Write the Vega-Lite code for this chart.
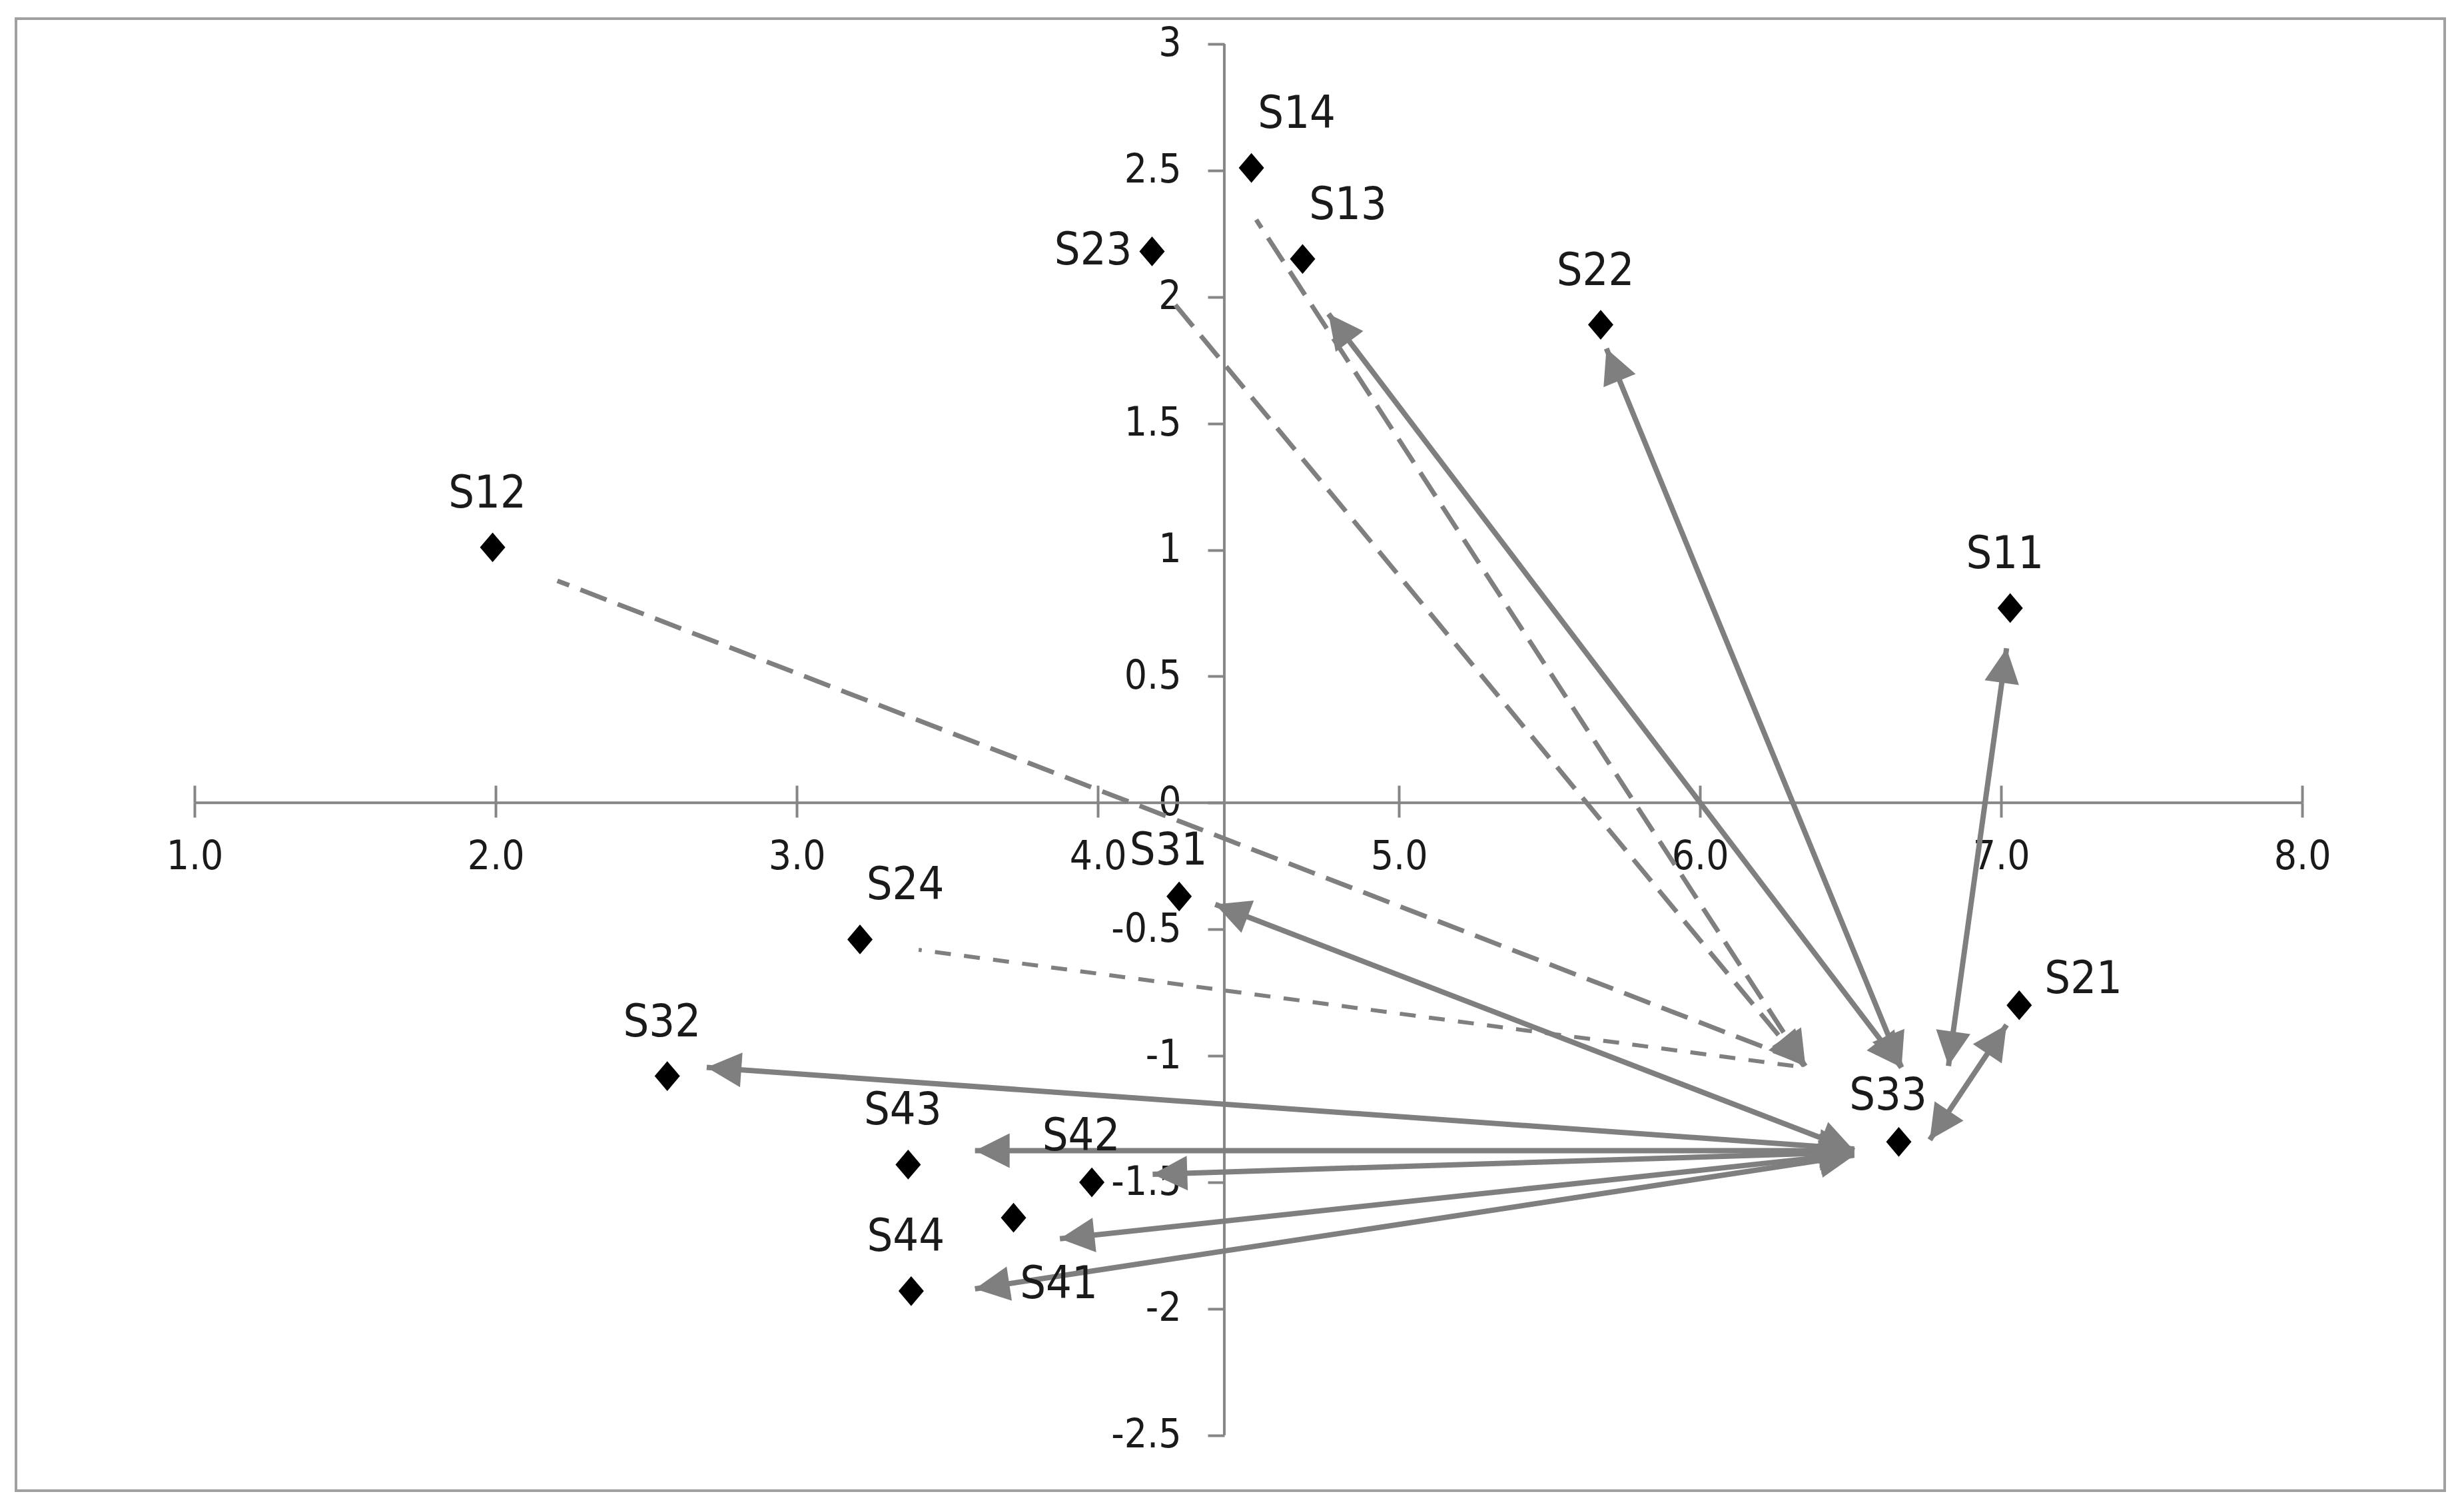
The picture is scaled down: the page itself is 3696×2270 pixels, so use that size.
{
  "$schema": "https://vega.github.io/schema/vega-lite/v6.json",
  "width": 3646,
  "height": 2210,
  "autosize": {"type": "none"},
  "padding": {"left": 24, "top": 28, "right": 26, "bottom": 32},
  "background": "white",
  "config": {
    "view": {"stroke": "#a0a0a0", "strokeWidth": 4},
    "font": "DejaVu Sans Condensed"
  },
  "datasets": {
    "points": [
      {"label": "S11", "x": 7.03, "y": 0.77},
      {"label": "S12", "x": 1.99, "y": 1.01},
      {"label": "S13", "x": 4.68, "y": 2.15},
      {"label": "S14", "x": 4.51, "y": 2.51},
      {"label": "S21", "x": 7.06, "y": -0.80},
      {"label": "S22", "x": 5.67, "y": 1.89},
      {"label": "S23", "x": 4.18, "y": 2.18},
      {"label": "S24", "x": 3.21, "y": -0.54},
      {"label": "S31", "x": 4.27, "y": -0.37},
      {"label": "S32", "x": 2.57, "y": -1.08},
      {"label": "S33", "x": 6.66, "y": -1.34},
      {"label": "S41", "x": 3.72, "y": -1.64},
      {"label": "S42", "x": 3.98, "y": -1.50},
      {"label": "S43", "x": 3.37, "y": -1.43},
      {"label": "S44", "x": 3.38, "y": -1.93}
    ],
    "edges": [
      {"to": "S12", "style": "dashed", "x1": 6.33, "y1": -1.02, "x2": 2.205, "y2": 0.878, "headNear": false, "headFar": false},
      {"to": "S23", "style": "dashed", "x1": 6.345, "y1": -1.04, "x2": 4.239, "y2": 1.995, "headNear": true, "headFar": false},
      {"to": "S14", "style": "dashed", "x1": 6.35, "y1": -1.04, "x2": 4.526, "y2": 2.305, "headNear": true, "headFar": false},
      {"to": "S24", "style": "dotted", "x1": 6.31, "y1": -1.04, "x2": 3.405, "y2": -0.581, "headNear": false, "headFar": false},
      {"to": "S13", "style": "solid", "x1": 6.669, "y1": -1.046, "x2": 4.766, "y2": 1.933, "headNear": true, "headFar": true},
      {"to": "S22", "style": "solid", "x1": 6.669, "y1": -1.046, "x2": 5.689, "y2": 1.796, "headNear": true, "headFar": true},
      {"to": "S11", "style": "solid", "x1": 6.825, "y1": -1.040, "x2": 7.018, "y2": 0.611, "headNear": true, "headFar": true},
      {"to": "S21", "style": "solid", "x1": 6.763, "y1": -1.332, "x2": 7.018, "y2": -0.878, "headNear": true, "headFar": true},
      {"to": "S31", "style": "solid", "x1": 6.512, "y1": -1.375, "x2": 4.390, "y2": -0.401, "headNear": true, "headFar": true},
      {"to": "S32", "style": "solid", "x1": 6.512, "y1": -1.368, "x2": 2.701, "y2": -1.046, "headNear": true, "headFar": true},
      {"to": "S43", "style": "solid", "x1": 6.512, "y1": -1.375, "x2": 3.592, "y2": -1.375, "headNear": true, "headFar": true},
      {"to": "S42", "style": "solid", "x1": 6.512, "y1": -1.381, "x2": 4.182, "y2": -1.468, "headNear": true, "headFar": true},
      {"to": "S41", "style": "solid", "x1": 6.512, "y1": -1.387, "x2": 3.874, "y2": -1.723, "headNear": true, "headFar": true},
      {"to": "S44", "style": "solid", "x1": 6.512, "y1": -1.393, "x2": 3.592, "y2": -1.921, "headNear": true, "headFar": true}
    ]
  },
  "resolve": {"axis": {"x": "independent", "y": "independent"}},
  "layer": [
    {
      "data": {"values": [{}]},
      "mark": {"type": "rule", "color": "#868686", "strokeWidth": 4},
      "encoding": {
        "x": {"datum": 1, "type": "quantitative", "scale": {"domain": [0.407, 8.473], "nice": false, "zero": false},
          "axis": {"orient": "bottom", "offset": -1033, "values": [1, 2, 3, 4, 5, 6, 7, 8], "labels": false, "domain": false, "grid": false, "tickSize": -26, "tickWidth": 4, "tickColor": "#868686", "title": null}},
        "x2": {"datum": 8},
        "y": {"datum": 0, "type": "quantitative", "scale": {"domain": [-2.719, 3.1], "nice": false, "zero": false}, "axis": null}
      }
    },
    {
      "data": {"values": [{}]},
      "mark": {"type": "rule", "color": "#868686", "strokeWidth": 4},
      "encoding": {
        "x": {"datum": 4.42, "type": "quantitative", "axis": null},
        "y": {"datum": -2.5, "type": "quantitative", "axis": null},
        "y2": {"datum": 3}
      }
    },
    {
      "data": {"name": "edges"},
      "transform": [{"filter": "datum.style === 'solid'"}],
      "mark": {"type": "rule", "color": "#7f7f7f", "strokeWidth": 8},
      "encoding": {
        "x": {"field": "x1", "type": "quantitative", "axis": null},
        "y": {"field": "y1", "type": "quantitative", "axis": null},
        "x2": {"field": "x2"},
        "y2": {"field": "y2"}
      }
    },
    {
      "data": {"name": "edges"},
      "transform": [{"filter": "datum.style === 'dashed'"}],
      "mark": {"type": "rule", "color": "#7f7f7f", "strokeWidth": 7, "strokeDash": [42, 18]},
      "encoding": {
        "x": {"field": "x1", "type": "quantitative", "axis": null},
        "y": {"field": "y1", "type": "quantitative", "axis": null},
        "x2": {"field": "x2"},
        "y2": {"field": "y2"}
      }
    },
    {
      "data": {"name": "edges"},
      "transform": [{"filter": "datum.style === 'dotted'"}],
      "mark": {"type": "rule", "color": "#7f7f7f", "strokeWidth": 6, "strokeDash": [24, 20]},
      "encoding": {
        "x": {"field": "x1", "type": "quantitative", "axis": null},
        "y": {"field": "y1", "type": "quantitative", "axis": null},
        "x2": {"field": "x2"},
        "y2": {"field": "y2"}
      }
    },
    {
      "data": {"name": "edges"},
      "transform": [
        {"filter": "datum.headFar"},
        {"calculate": "atan2((datum.x2 - datum.x1) * 452, (datum.y2 - datum.y1) * 379.8) * 180 / PI", "as": "heading"}
      ],
      "mark": {"type": "point", "shape": "M0,0L1,2L-1,2Z", "filled": true, "color": "#7f7f7f", "opacity": 1, "size": 2704},
      "encoding": {
        "x": {"field": "x2", "type": "quantitative", "axis": null},
        "y": {"field": "y2", "type": "quantitative", "axis": null},
        "angle": {"field": "heading", "type": "quantitative", "scale": null}
      }
    },
    {
      "data": {"name": "edges"},
      "transform": [
        {"filter": "datum.headNear"},
        {"calculate": "atan2((datum.x1 - datum.x2) * 452, (datum.y1 - datum.y2) * 379.8) * 180 / PI", "as": "heading"}
      ],
      "mark": {"type": "point", "shape": "M0,0L1,2L-1,2Z", "filled": true, "color": "#7f7f7f", "opacity": 1, "size": 2704},
      "encoding": {
        "x": {"field": "x1", "type": "quantitative", "axis": null},
        "y": {"field": "y1", "type": "quantitative", "axis": null},
        "angle": {"field": "heading", "type": "quantitative", "scale": null}
      }
    },
    {
      "data": {"name": "points"},
      "mark": {"type": "point", "shape": "M0,-1L0.85,0L0,1L-0.85,0Z", "filled": true, "color": "#000000", "opacity": 1, "size": 2000},
      "encoding": {
        "x": {"field": "x", "type": "quantitative",
          "axis": {"orient": "bottom", "offset": -1033, "values": [1, 2, 3, 4, 5, 6, 7, 8], "labelExpr": "format(datum.value, '.1f')", "domain": false, "grid": false, "tickSize": 22, "tickWidth": 4, "tickColor": "#868686", "labelFontSize": 60, "labelColor": "#1a1a1a", "labelPadding": 30, "labelFlush": false, "labelOverlap": false, "title": null}},
        "y": {"field": "y", "type": "quantitative",
          "axis": {"orient": "left", "offset": -1814, "values": [-2.5, -2, -1.5, -1, -0.5, 0, 0.5, 1, 1.5, 2, 2.5, 3], "labelExpr": "replace(format(datum.value, '~g'), '\u2212', '-')", "domain": false, "grid": false, "tickSize": 25, "tickWidth": 4, "tickColor": "#868686", "labelFontSize": 60, "labelColor": "#1a1a1a", "labelPadding": 40, "labelFlush": false, "labelOverlap": false, "title": null}}
      }
    },
    {
      "data": {"name": "points"},
      "transform": [{"filter": {"field": "label", "oneOf": ["S11", "S12", "S22", "S32", "S43", "S44"]}}],
      "mark": {"type": "text", "fontSize": 68, "color": "#1a1a1a", "align": "center", "baseline": "middle", "dx": -8, "dy": -80},
      "encoding": {
        "x": {"field": "x", "type": "quantitative", "axis": null},
        "y": {"field": "y", "type": "quantitative", "axis": null},
        "text": {"field": "label"}
      }
    },
    {
      "data": {"name": "points"},
      "transform": [{"filter": {"field": "label", "oneOf": ["S31", "S42", "S33"]}}],
      "mark": {"type": "text", "fontSize": 68, "color": "#1a1a1a", "align": "center", "baseline": "middle", "dx": -16, "dy": -68},
      "encoding": {
        "x": {"field": "x", "type": "quantitative", "axis": null},
        "y": {"field": "y", "type": "quantitative", "axis": null},
        "text": {"field": "label"}
      }
    },
    {
      "data": {"name": "points"},
      "transform": [{"filter": {"field": "label", "oneOf": ["S14", "S13", "S24"]}}],
      "mark": {"type": "text", "fontSize": 68, "color": "#1a1a1a", "align": "center", "baseline": "middle", "dx": 68, "dy": -80},
      "encoding": {
        "x": {"field": "x", "type": "quantitative", "axis": null},
        "y": {"field": "y", "type": "quantitative", "axis": null},
        "text": {"field": "label"}
      }
    },
    {
      "data": {"name": "points"},
      "transform": [{"filter": {"field": "label", "oneOf": ["S23"]}}],
      "mark": {"type": "text", "fontSize": 68, "color": "#1a1a1a", "align": "right", "baseline": "middle", "dx": -30, "dy": 0},
      "encoding": {
        "x": {"field": "x", "type": "quantitative", "axis": null},
        "y": {"field": "y", "type": "quantitative", "axis": null},
        "text": {"field": "label"}
      }
    },
    {
      "data": {"name": "points"},
      "transform": [{"filter": {"field": "label", "oneOf": ["S21"]}}],
      "mark": {"type": "text", "fontSize": 68, "color": "#1a1a1a", "align": "left", "baseline": "middle", "dx": 38, "dy": -38},
      "encoding": {
        "x": {"field": "x", "type": "quantitative", "axis": null},
        "y": {"field": "y", "type": "quantitative", "axis": null},
        "text": {"field": "label"}
      }
    },
    {
      "data": {"name": "points"},
      "transform": [{"filter": {"field": "label", "oneOf": ["S41"]}}],
      "mark": {"type": "text", "fontSize": 68, "color": "#1a1a1a", "align": "center", "baseline": "middle", "dx": 68, "dy": 101},
      "encoding": {
        "x": {"field": "x", "type": "quantitative", "axis": null},
        "y": {"field": "y", "type": "quantitative", "axis": null},
        "text": {"field": "label"}
      }
    }
  ]
}
